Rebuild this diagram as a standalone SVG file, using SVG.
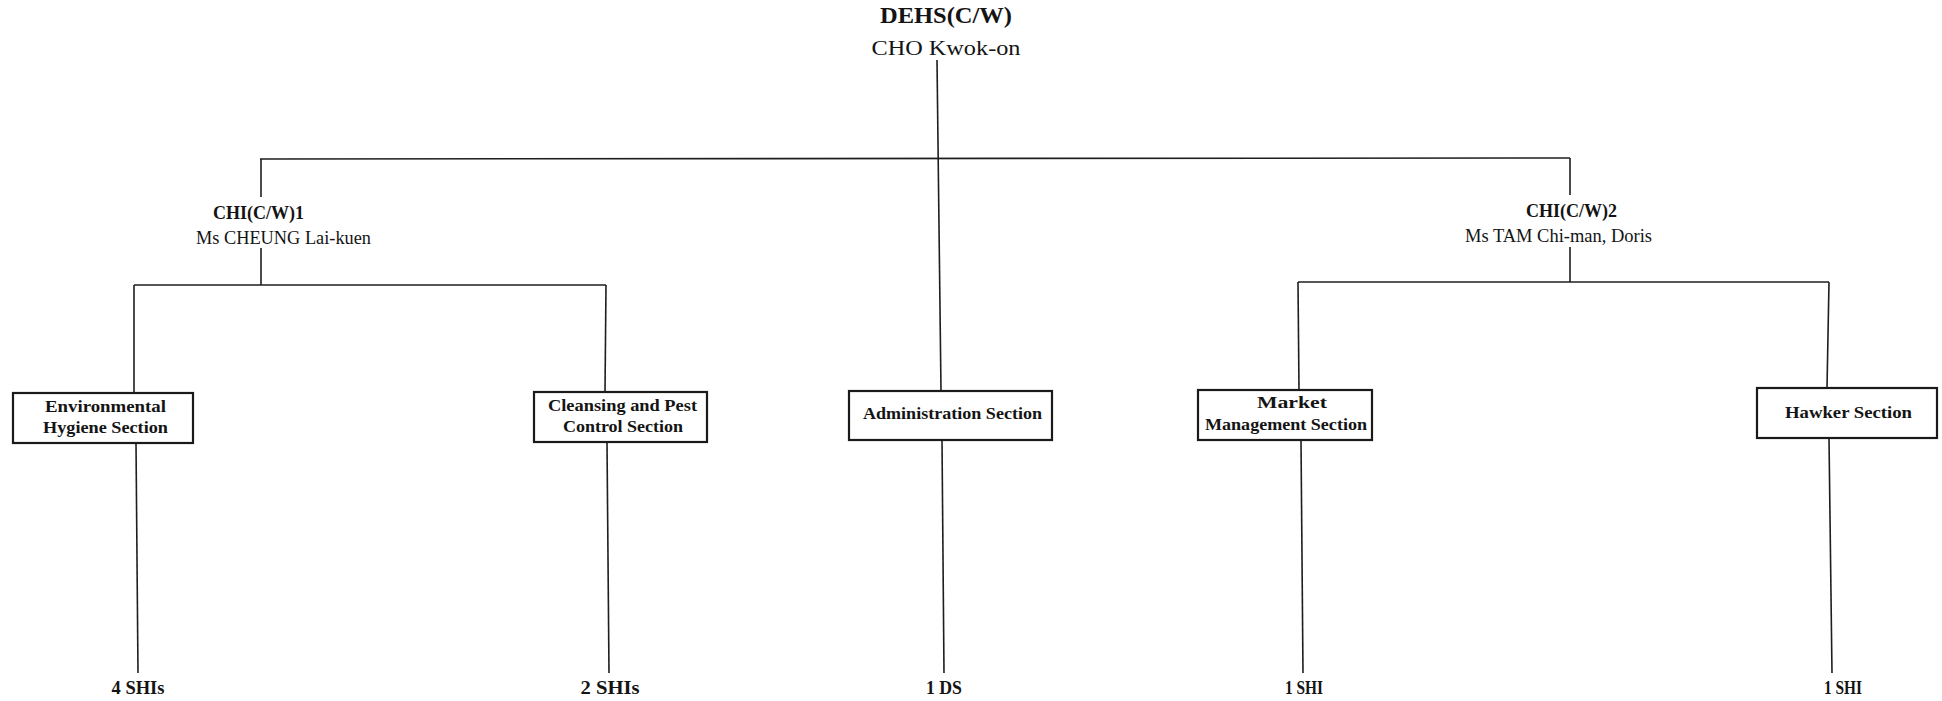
<svg xmlns="http://www.w3.org/2000/svg" width="1942" height="701" viewBox="0 0 1942 701">
<style>
.ln{stroke:#1e1e1e;stroke-width:1.6;fill:none}
.box{fill:#fff;stroke:#1a1a1a;stroke-width:2.2}
.t{font-family:"Liberation Serif","Times New Roman",serif;fill:#141414}
.b{font-weight:bold}
.bx{font-family:"Liberation Serif","Times New Roman",serif;font-weight:bold;font-size:17.5px;fill:#141414}
.st{font-family:"Liberation Serif","Times New Roman",serif;font-weight:bold;font-size:19px;fill:#141414;text-anchor:middle}
</style>
<rect width="1942" height="701" fill="#fff"/>
<g id="connectors">
<line class="ln" x1="937" y1="60" x2="941" y2="391"/>
<line class="ln" x1="260" y1="159" x2="1570" y2="158"/>
<line class="ln" x1="261" y1="159" x2="261" y2="197"/>
<line class="ln" x1="261" y1="248" x2="261" y2="285"/>
<line class="ln" x1="1570" y1="158" x2="1570" y2="195"/>
<line class="ln" x1="1570" y1="247" x2="1570" y2="282"/>
<line class="ln" x1="134" y1="285" x2="606" y2="285"/>
<line class="ln" x1="1298" y1="282" x2="1829" y2="282"/>
<line class="ln" x1="134" y1="285" x2="134" y2="393"/>
<line class="ln" x1="606" y1="285" x2="605" y2="392"/>
<line class="ln" x1="1298" y1="282" x2="1299" y2="390"/>
<line class="ln" x1="1829" y1="282" x2="1827" y2="388"/>
<line class="ln" x1="136" y1="443" x2="138" y2="673"/>
<line class="ln" x1="607" y1="442" x2="609" y2="673"/>
<line class="ln" x1="942" y1="440" x2="944" y2="673"/>
<line class="ln" x1="1301" y1="440" x2="1303" y2="673"/>
<line class="ln" x1="1829" y1="438" x2="1832" y2="673"/>
</g>
<g id="dehs">
<text class="t b" x="946" y="23" font-size="24" text-anchor="middle" textLength="132" lengthAdjust="spacingAndGlyphs">DEHS(C/W)</text>
<text class="t" x="946" y="55" font-size="22" text-anchor="middle" textLength="149" lengthAdjust="spacingAndGlyphs">CHO Kwok-on</text>
</g>
<g id="chi1">
<text class="t b" x="213" y="219" font-size="18" textLength="91" lengthAdjust="spacingAndGlyphs">CHI(C/W)1</text>
<text class="t" x="196" y="244" font-size="18" textLength="175" lengthAdjust="spacingAndGlyphs">Ms CHEUNG Lai-kuen</text>
</g>
<g id="chi2">
<text class="t b" x="1526" y="217" font-size="18" textLength="91" lengthAdjust="spacingAndGlyphs">CHI(C/W)2</text>
<text class="t" x="1465" y="242" font-size="18" textLength="187" lengthAdjust="spacingAndGlyphs">Ms TAM Chi-man, Doris</text>
</g>
<g id="env">
<rect class="box" x="13" y="393" width="180" height="50"/>
<text class="bx" x="45" y="412" textLength="121" lengthAdjust="spacingAndGlyphs">Environmental</text>
<text class="bx" x="43" y="433" textLength="125" lengthAdjust="spacingAndGlyphs">Hygiene Section</text>
</g>
<g id="cleansing">
<rect class="box" x="534" y="392" width="173" height="50"/>
<text class="bx" x="548" y="411" textLength="149" lengthAdjust="spacingAndGlyphs">Cleansing and Pest</text>
<text class="bx" x="563" y="432" textLength="120" lengthAdjust="spacingAndGlyphs">Control Section</text>
</g>
<g id="admin">
<rect class="box" x="849" y="391" width="203" height="49"/>
<text class="bx" x="863" y="419" textLength="179" lengthAdjust="spacingAndGlyphs">Administration Section</text>
</g>
<g id="market">
<rect class="box" x="1198" y="390" width="174" height="50"/>
<text class="bx" x="1257" y="408" textLength="70" lengthAdjust="spacingAndGlyphs">Market</text>
<text class="bx" x="1205" y="430" textLength="162" lengthAdjust="spacingAndGlyphs">Management Section</text>
</g>
<g id="hawker">
<rect class="box" x="1757" y="388" width="180" height="50"/>
<text class="bx" x="1785" y="418" textLength="127" lengthAdjust="spacingAndGlyphs">Hawker Section</text>
</g>
<g id="env-staff"><text class="st" x="138" y="694" textLength="53" lengthAdjust="spacingAndGlyphs">4 SHIs</text></g>
<g id="cleansing-staff"><text class="st" x="610" y="694" textLength="59" lengthAdjust="spacingAndGlyphs">2 SHIs</text></g>
<g id="admin-staff"><text class="st" x="944" y="694" textLength="36" lengthAdjust="spacingAndGlyphs">1 DS</text></g>
<g id="market-staff"><text class="st" x="1304" y="694" textLength="38" lengthAdjust="spacingAndGlyphs">1 SHI</text></g>
<g id="hawker-staff"><text class="st" x="1843" y="694" textLength="38" lengthAdjust="spacingAndGlyphs">1 SHI</text></g>
</svg>
